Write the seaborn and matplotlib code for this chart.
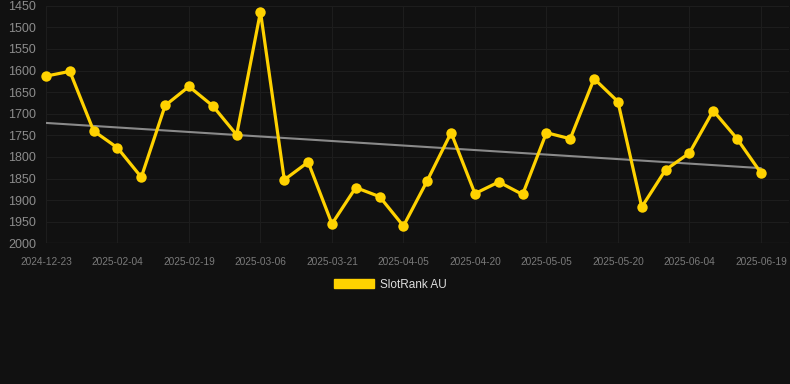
import matplotlib
matplotlib.use("Agg")
import matplotlib.pyplot as plt
from matplotlib.patches import Patch
import seaborn as sns
import pandas as pd
import numpy as np

dates = ["2024-12-23", "2025-01-25", "2025-01-30", "2025-02-04", "2025-02-09",
         "2025-02-14", "2025-02-19", "2025-02-24", "2025-03-01", "2025-03-06",
         "2025-03-11", "2025-03-16", "2025-03-21", "2025-03-26", "2025-03-31",
         "2025-04-05", "2025-04-10", "2025-04-15", "2025-04-20", "2025-04-25",
         "2025-04-30", "2025-05-05", "2025-05-10", "2025-05-15", "2025-05-20",
         "2025-05-25", "2025-05-30", "2025-06-04", "2025-06-09", "2025-06-14",
         "2025-06-19"]
ranks = [1613, 1602, 1740, 1779, 1847, 1681, 1637, 1682, 1749, 1464,
         1853, 1812, 1955, 1871, 1892, 1960, 1855, 1744, 1885, 1858,
         1887, 1744, 1758, 1619, 1672, 1916, 1830, 1791, 1693, 1758,
         1837]
y_ticks = [1450, 1500, 1550, 1600, 1650, 1700, 1750, 1800, 1850, 1900, 1950, 2000]
series_name = "SlotRank AU"

BG = "#111111"
GOLD = "#FFD200"

sns.set_theme(style="dark")
plt.rcParams["font.family"] = ["Liberation Sans", "DejaVu Sans"]

df = pd.DataFrame({"idx": np.arange(len(dates)), "date": dates, "rank": ranks})

fig = plt.figure(figsize=(7.9, 3.84), dpi=100, facecolor=BG)
ax = fig.add_axes([46 / 790, 1 - 243.3 / 384, (789 - 46) / 790, (243.3 - 5.7) / 384])
ax.set_facecolor(BG)

sns.regplot(data=df, x="idx", y="rank", scatter=False, ci=None, ax=ax,
            line_kws=dict(color="#8a8a8a", lw=1.5, zorder=2))
sns.lineplot(data=df, x="idx", y="rank", ax=ax, color=GOLD, lw=2.3,
             marker="o", markersize=7.5, markeredgewidth=0, zorder=3, clip_on=False)

ax.set_ylim(2000, 1450)
ax.set_xlim(0, (789 - 46) / 23.83)
ax.set_yticks(y_ticks)
ax.set_yticklabels([str(v) for v in y_ticks], color="#8c8c8c", fontsize=9)
tick_idx = list(range(0, len(dates), 3))
ax.set_xticks(tick_idx)
ax.set_xticklabels([dates[i] for i in tick_idx], color="#7a7a7a", fontsize=7.3)
ax.tick_params(axis="x", length=0, pad=10)
ax.tick_params(axis="y", length=0, pad=7)
ax.set_xlabel("")
ax.set_ylabel("")
ax.grid(True, color="#1d1d1d", lw=0.8)
ax.axhline(2000, color="#2a2a2a", lw=0.9, zorder=1)
for s in ax.spines.values():
    s.set_visible(False)

fs = 8.5
leg = fig.legend(handles=[Patch(facecolor=GOLD, edgecolor=GOLD, label=series_name)],
                 loc="center", bbox_to_anchor=(390 / 790, 1 - 284.5 / 384),
                 frameon=False, fontsize=fs, handlelength=3.4, handleheight=0.9,
                 handletextpad=0.5, borderaxespad=0)
for t in leg.get_texts():
    t.set_color("#dddddd")

fig.savefig("out.png", dpi=100, facecolor=BG)
